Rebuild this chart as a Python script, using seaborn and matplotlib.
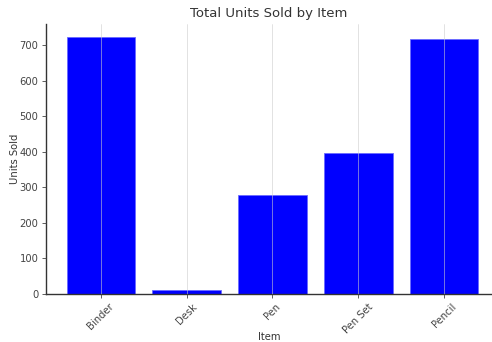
import matplotlib
matplotlib.use("Agg")
import matplotlib.pyplot as plt
import seaborn as sns
import pandas as pd

items = ["Binder", "Desk", "Pen", "Pen Set", "Pencil"]
units = [722, 11, 279, 397, 717]

sns.set_style("white")
plt.rcParams['font.family'] = ['DejaVu Sans']

df = pd.DataFrame({"Item": items, "Units Sold": units})

fig = plt.figure(figsize=(4.92, 3.42), dpi=100)
ax = fig.add_axes([46/492, 1-294/342, 1-46/492, (294-24)/342])
sns.barplot(data=df, x="Item", y="Units Sold", color="#0000ff", saturation=1,
            width=0.8, ax=ax, edgecolor="#6a6aff", linewidth=0.6)
ax.set_xlim(-0.64, 4.56)
ax.set_ylim(0, 759)
ax.set_axisbelow(False)
ax.xaxis.grid(True, color="#cccccc", linewidth=0.5, alpha=0.8)
ax.yaxis.grid(False)
for s in ["top", "right"]:
    ax.spines[s].set_visible(False)
for s in ["left", "bottom"]:
    ax.spines[s].set_color("#333333")
    ax.spines[s].set_linewidth(1.0)
ax.tick_params(axis="both", labelsize=7.2, colors="#444444", length=3, width=0.6,
               left=True, bottom=True, pad=2.5)
plt.setp(ax.get_xticklabels(), rotation=45)
ax.set_xlabel("Item", fontsize=7.2, color="#333333")
ax.set_ylabel("Units Sold", fontsize=7.2, color="#333333")
ax.xaxis.set_label_coords(0.5, (294 - 337) / 270)
ax.xaxis.label.set_va("center")
ax.yaxis.set_label_coords((15 - 46) / 446, 0.5)
ax.yaxis.label.set_va("center")
ax.set_title("Total Units Sold by Item", fontsize=9.5, color="#333333", pad=5)
fig.savefig("out.png", dpi=100)
